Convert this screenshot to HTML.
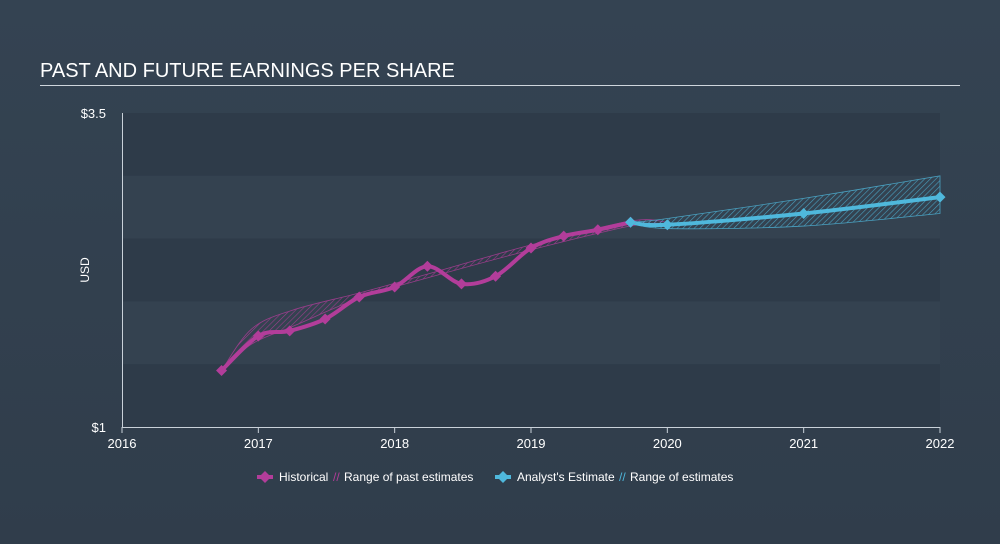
<!DOCTYPE html>
<html><head><meta charset="utf-8"><style>
html,body{margin:0;padding:0;width:1000px;height:544px;overflow:hidden;background:linear-gradient(180deg,#344352 0%,#303d4b 100%);font-family:"Liberation Sans",sans-serif}
#title{position:absolute;left:40px;top:60px;color:#fff;font-size:20px;letter-spacing:0px}
#rule{position:absolute;left:40px;top:85px;width:920px;height:1px;background:#cfd6dd}
svg{position:absolute;left:0;top:0}
text{font-family:"Liberation Sans",sans-serif}
</style></head><body>
<div id="title">PAST AND FUTURE EARNINGS PER SHARE</div>
<div id="rule"></div>
<svg id="chart" width="1000" height="544">
<defs>
<pattern id="hp" width="4" height="4" patternUnits="userSpaceOnUse" patternTransform="rotate(45)"><line x1="0" y1="0" x2="0" y2="4" stroke="#b23d9a" stroke-width="1.2"/></pattern>
<pattern id="hb" width="4" height="4" patternUnits="userSpaceOnUse" patternTransform="rotate(45)"><line x1="0" y1="0" x2="0" y2="4" stroke="#4fb8dc" stroke-width="1.2"/></pattern>
</defs>
</svg>
<script>
const histDates=[2016.73,2017.0,2017.23,2017.49,2017.74,2018.0,2018.24,2018.49,2018.74,2019.0,2019.24,2019.49,2019.73];
const histValues=[1.45,1.725,1.765,1.86,2.035,2.115,2.28,2.14,2.20,2.425,2.52,2.57,2.63];
const pastRangeDates=[2016.73,2016.95,2017.25,2017.75,2018.25,2019.0,2019.73,2020.0];
const pastUpper=[1.45,1.78,1.93,2.07,2.22,2.45,2.64,2.63];
const pastLower=[1.45,1.66,1.80,2.03,2.19,2.41,2.60,2.62];
const fcDates=[2019.73,2020.0,2021.0,2022.0];
const fcValues=[2.63,2.61,2.70,2.83];
const fcRangeDates=[2019.73,2020.0,2021.0,2022.0];
const fcUpper=[2.63,2.66,2.82,3.0];
const fcLower=[2.63,2.58,2.60,2.70];
const xTicks=[2016,2017,2018,2019,2020,2021,2022];
const yTickLabels=["$1","$3.5"];
const yTickValues=[1,3.5];

const X0=122,X1=940,Y0=427,Y1=113;
const x=d=>X0+(d-2016)*(X1-X0)/6.0;
const y=v=>Y0-(v-1)*(Y0-Y1)/2.5;
const svg=document.getElementById('chart');
const NS='http://www.w3.org/2000/svg';
function mk(t,a){const e=document.createElementNS(NS,t);for(const k in a)e.setAttribute(k,a[k]);svg.appendChild(e);return e;}
function smooth(pts){let d='M'+pts[0][0]+','+pts[0][1];for(let i=0;i<pts.length-1;i++){const p0=pts[i-1]||pts[i],p1=pts[i],p2=pts[i+1],p3=pts[i+2]||p2;const c1=[p1[0]+(p2[0]-p0[0])/6,p1[1]+(p2[1]-p0[1])/6],c2=[p2[0]-(p3[0]-p1[0])/6,p2[1]-(p3[1]-p1[1])/6];d+=' C'+c1+' '+c2+' '+p2;}return d;}
function smoothRev(pts){const r=pts.slice().reverse();return smooth(r).replace('M','L');}

for(let i=0;i<5;i++){const b=mk('rect',{x:X0,y:y(3.5-i*0.5),width:X1-X0,height:y(3.0)-y(3.5),fill:i%2===0?'#2e3b49':'#344250'});

}
const xa=mk('line',{x1:X0,y1:Y0+0.5,x2:X1,y2:Y0+0.5,stroke:'#c9d1d9','stroke-width':1});


const ya=mk('line',{x1:X0+0.5,y1:Y1,x2:X0+0.5,y2:Y0,stroke:'#c9d1d9','stroke-width':1});


xTicks.forEach(t=>{const l=mk('line',{x1:x(t),y1:Y0,x2:x(t),y2:Y0+6,stroke:'#c9d1d9'});


const tx=mk('text',{x:x(t),y:Y0+21,fill:'#fff','font-size':13,'text-anchor':'middle'});tx.textContent=t;

});
yTickValues.forEach((v,i)=>{const tx=mk('text',{x:X0-16,y:y(v)+5,fill:'#fff','font-size':13,'text-anchor':'end'});tx.textContent=yTickLabels[i];

});
const yt=mk('text',{x:89,y:270,fill:'#fff','font-size':12,'text-anchor':'middle',transform:'rotate(-90 89 270)'});yt.textContent='USD';



const pu=pastRangeDates.map((d,i)=>[x(d),y(pastUpper[i])]),pl=pastRangeDates.map((d,i)=>[x(d),y(pastLower[i])]);
const pr=mk('path',{d:smooth(pu)+' '+smoothRev(pl)+'Z',fill:'url(#hp)',stroke:'#b23d9a','stroke-width':0.8,opacity:0.8});


const fu=fcRangeDates.map((d,i)=>[x(d),y(fcUpper[i])]),fl=fcRangeDates.map((d,i)=>[x(d),y(fcLower[i])]);
const fr=mk('path',{d:smooth(fu)+' '+smoothRev(fl)+'Z',fill:'url(#hb)',stroke:'#4fb8dc','stroke-width':0.8,opacity:0.8});



const hp=histDates.map((d,i)=>[x(d),y(histValues[i])]);
const hl=mk('path',{d:smooth(hp),fill:'none',stroke:'#b23d9a','stroke-width':4,'stroke-linejoin':'round'});


const fp=fcDates.map((d,i)=>[x(d),y(fcValues[i])]);
const fline=mk('path',{d:smooth(fp),fill:'none',stroke:'#4fb8dc','stroke-width':4,'stroke-linejoin':'round'});


function diamond(px,py,c,r){return mk('path',{d:`M${px},${py-r} L${px+r},${py} L${px},${py+r} L${px-r},${py}Z`,fill:c});}
hp.forEach(p=>{const m=diamond(p[0],p[1],'#b23d9a',5.5);

});
fp.forEach(p=>{const m=diamond(p[0],p[1],'#4fb8dc',5.5);

});

function legText(tx,t,name){const e=mk('text',{x:tx,y:481,fill:'#fff','font-size':12});e.textContent=t;

}
mk('rect',{x:257,y:475,width:16,height:4,fill:'#b23d9a'});
const l1=mk('path',{d:'M265,471 L271,477 L265,483 L259,477 Z',fill:'#b23d9a'});


legText(279,'Historical','legend-historical');
const h1=mk('text',{x:333,y:481,fill:'#b23d9a','font-size':12});h1.textContent='//';


legText(344,'Range of past estimates','legend-past-range');
mk('rect',{x:495,y:475,width:16,height:4,fill:'#4fb8dc'});
const l2=mk('path',{d:'M503,471 L509,477 L503,483 L497,477 Z',fill:'#4fb8dc'});


legText(517,"Analyst's Estimate",'legend-analyst-estimate');
const h2=mk('text',{x:619,y:481,fill:'#4fb8dc','font-size':12});h2.textContent='//';


legText(630,'Range of estimates','legend-estimate-range');
</script>
</body></html>
